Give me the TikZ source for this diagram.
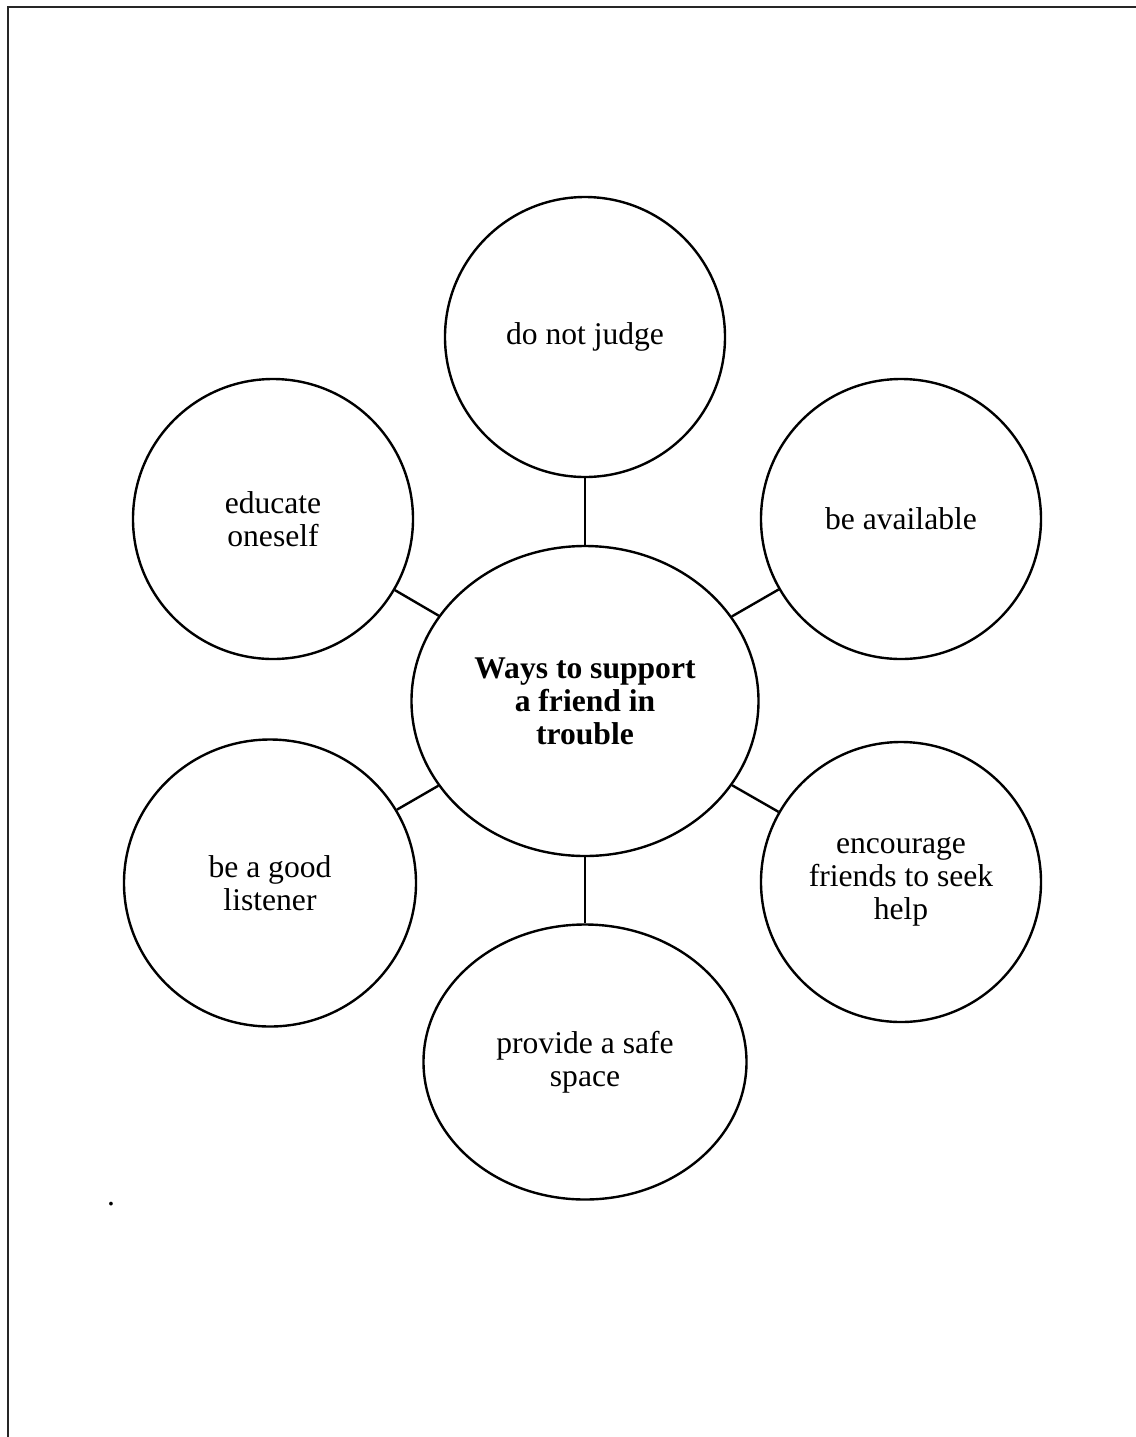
\documentclass[tikz,border=0pt]{standalone}
\usepackage{fontspec}
\setmainfont{Liberation Serif}
\usepackage{tikz}
\usetikzlibrary{shapes.geometric}

\begin{document}
\begin{tikzpicture}[x=0.5pt,y=-0.5pt,
        every node/.style={font=\fontsize{15.8}{16.5}\selectfont, align=center, inner sep=0pt},
        bubble/.style={draw, line width=1.2pt, circle, minimum size=140pt},
        oval/.style={draw, line width=1.2pt, ellipse},
        link/.style={line width=1.2pt}]
    \useasboundingbox (0,0) rectangle (1136,1437);
    \draw [line width=1.2pt, black!85] (8,1437) -- (8,7) -- (1136,7);

    \node [oval, minimum width=173.5pt, minimum height=155pt] (hub) at (585,701) {\textbf{Ways to support}\\\textbf{a friend in}\\\textbf{trouble}};
    \node [bubble] (judge) at (585,337) {do not judge};
    \node [bubble] (educate) at (273,519) {educate\\oneself};
    \node [bubble] (available) at (901,519) {be available};
    \node [oval, minimum width=146pt, minimum height=143.5pt] (listener) at (270,883) {be a good\\listener};
    \node [bubble] (seekhelp) at (901,882) {encourage\\friends to seek\\help};
    \node [oval, minimum width=161.5pt, minimum height=137.5pt] (safespace) at (585,1062) {provide a safe\\space};

    \draw [link] (hub) -- (judge);
    \draw [link] (hub) -- (educate);
    \draw [link] (hub) -- (available);
    \draw [link] (hub) -- (listener);
    \draw [link] (hub) -- (seekhelp);
    \draw [link] (hub) -- (safespace);

    \node (dot) at (111,1204) {.};
\end{tikzpicture}
\end{document}
